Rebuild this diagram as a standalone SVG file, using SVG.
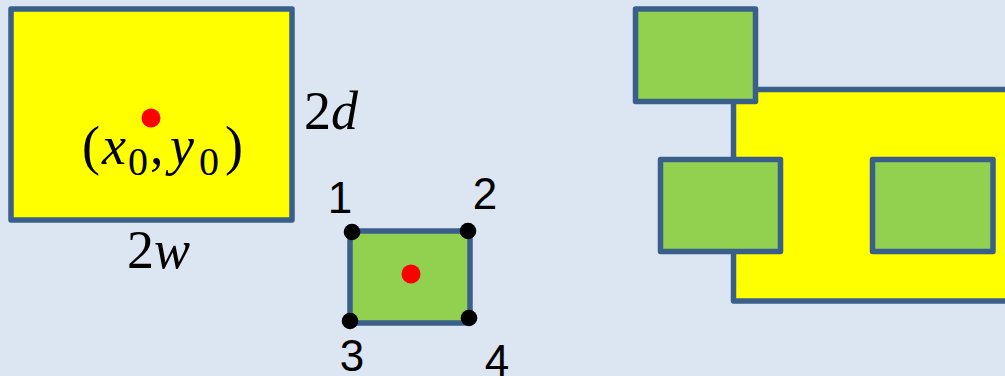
<svg xmlns="http://www.w3.org/2000/svg" width="1005" height="376" viewBox="0 0 1005 376">
<style>
.box{stroke:#3A5F8B;stroke-width:5.5;stroke-linejoin:round}
.y{fill:#FFFF00}
.g{fill:#92D050}
.red{fill:#FF0000}
.blk{fill:#000000}
.m{font-family:"Liberation Serif","DejaVu Serif",serif;font-size:54px;fill:#000}
.i{font-style:italic}
.s{font-size:40px}
.n{font-family:"Liberation Sans","DejaVu Sans",sans-serif;font-size:44px;fill:#000;text-anchor:middle}
</style>
<rect width="1005" height="376" fill="#DCE6F2"/>
<g id="big-rect">
<rect class="box y" x="11" y="9" width="281" height="211"/>
<circle class="red" cx="151" cy="118" r="9.5"/>
<text class="m"><tspan x="82" y="164">(</tspan><tspan class="i" x="102" y="164">x</tspan><tspan class="s" x="128" y="175">0</tspan><tspan x="150" y="164">,</tspan><tspan class="i" x="170" y="164">y</tspan><tspan class="s" x="199" y="175">0</tspan><tspan x="225" y="164">)</tspan></text>
</g>
<g id="label-2d"><text class="m" x="304" y="129">2<tspan class="i">d</tspan></text></g>
<g id="label-2w"><text class="m" x="127" y="268">2<tspan class="i">w</tspan></text></g>
<g id="small-rect">
<rect class="box g" x="350" y="231" width="120" height="92"/>
<circle class="red" cx="411" cy="274" r="9.5"/>
<circle class="blk" cx="352" cy="232" r="8.3"/>
<circle class="blk" cx="468" cy="231" r="8.3"/>
<circle class="blk" cx="350" cy="321" r="8.3"/>
<circle class="blk" cx="469" cy="318" r="8.3"/>
<text class="n" x="340" y="213">1</text>
<text class="n" x="485" y="209">2</text>
<text class="n" x="352" y="371">3</text>
<text class="n" x="497" y="376">4</text>
</g>
<g id="right-yellow"><rect class="box y" x="733.5" y="89.5" width="300" height="211.5"/></g>
<g id="right-green-top"><rect class="box g" x="635.5" y="9" width="120" height="92.5"/></g>
<g id="right-green-left"><rect class="box g" x="660.5" y="159.5" width="120" height="92"/></g>
<g id="right-green-right"><rect class="box g" x="872.5" y="159.5" width="120.5" height="92"/></g>
<g id="connectors"></g>
</svg>
